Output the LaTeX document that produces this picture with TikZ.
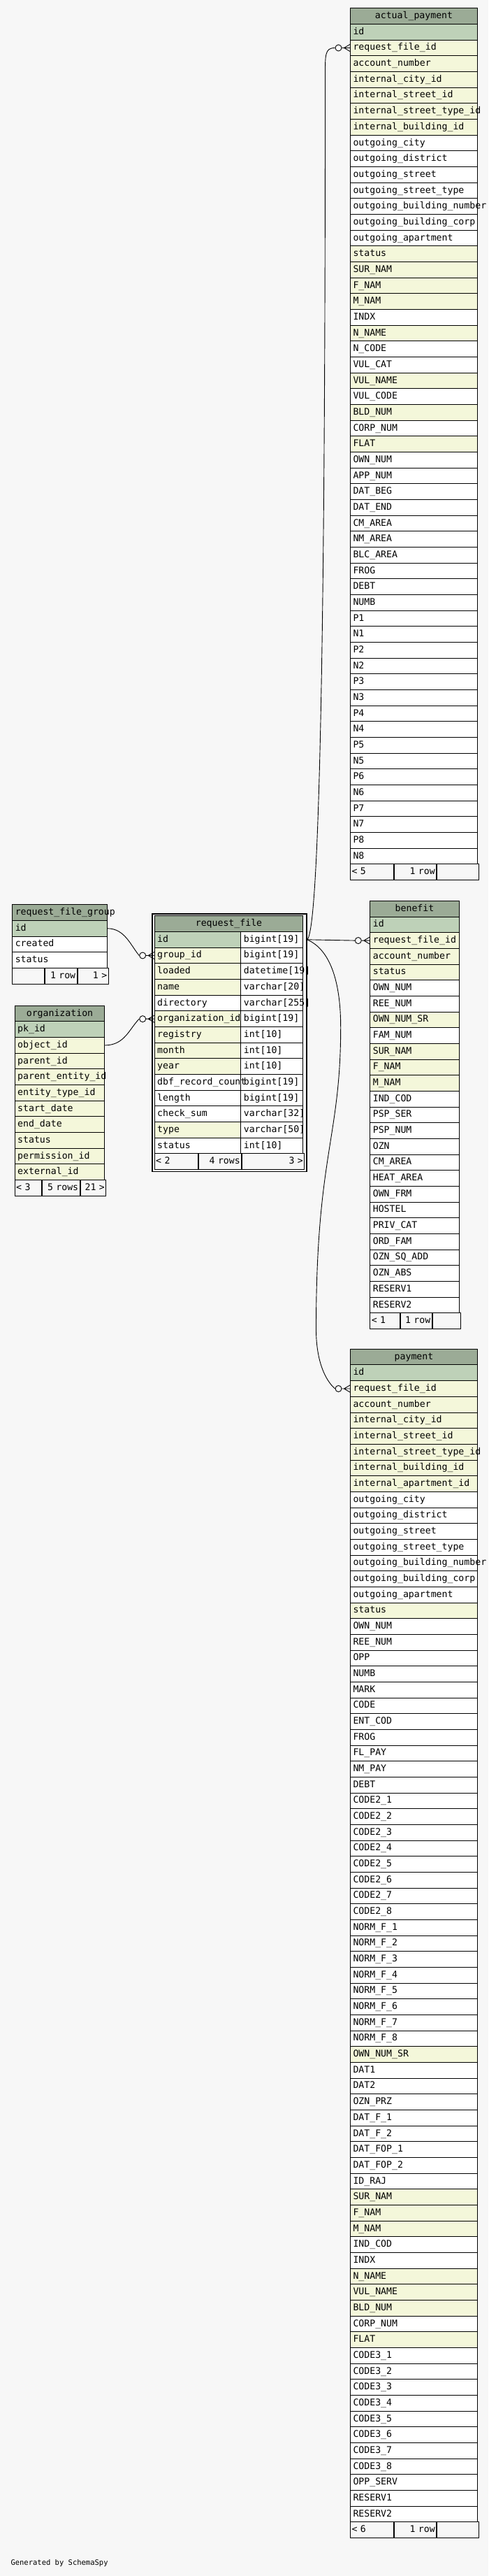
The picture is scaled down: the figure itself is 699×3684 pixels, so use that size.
\documentclass[tikz,border=0pt]{standalone}
\usepackage{fontspec}
\usetikzlibrary{calc,fit}

\newfontfamily\tabfont{DejaVu Sans Mono}
\definecolor{headgreen}{HTML}{9BAB96}
\definecolor{keygreen}{HTML}{BED1B8}
\definecolor{idxyellow}{HTML}{F4F7DA}
\definecolor{pagebg}{HTML}{F7F7F7}

\begin{document}
\begin{tikzpicture}[x=1pt, y=-1pt,
    cell/.style  ={rectangle, draw=black, line width=1pt, anchor=north west, inner xsep=4pt, inner ysep=0pt,
                   minimum height=22.67pt, text height=9.5pt, text depth=2.5pt, align=left,
                   font=\tabfont\fontsize{13.2}{15}\selectfont},
    thead/.style ={cell, fill=headgreen, align=center},
    pkrow/.style ={cell, fill=keygreen},
    hlrow/.style ={cell, fill=idxyellow},
    plrow/.style ={cell, fill=white},
    tfoot/.style ={cell, fill=pagebg, inner xsep=2pt},
    frame/.style ={rectangle, draw=black, line width=1.8pt, inner sep=2.5pt},
    odot/.style  ={circle, draw=black, fill=white, line width=0.9pt, minimum size=9pt, inner sep=0pt},
    rel/.style   ={draw=black, line width=0.9pt}]

  \fill[pagebg] (0,0) rectangle (699,3684);
  \useasboundingbox (0,0) rectangle (699,3684);

  % request_file_group
  \node[thead, text width=127.4pt] (rfg-h) at (17.3,1293.3) {request\_file\_group};
  \foreach \txt/\sty [count=\i] in {id/pkrow, created/plrow, status/plrow}
    \node[\sty, text width=127.4pt] (rfg-\i) at ($(rfg-h.north west)+(0,\i*22.67)$) {\txt};
  \node[tfoot, text width=42pt]                (rfg-f1) at ($(rfg-h.north west)+(0,4*22.67)$) {};
  \node[tfoot, text width=41.4pt, align=right] (rfg-f2) at (rfg-f1.north east) {1 row};
  \node[tfoot, text width=40pt, align=right]   (rfg-f3) at (rfg-f2.north east) {1 >};

  % organization
  \node[thead, text width=120.6pt] (org-h) at (20.7,1437.7) {organization};
  \foreach \txt/\sty [count=\i] in {pk\_id/pkrow, object\_id/hlrow, parent\_id/hlrow, parent\_entity\_id/hlrow,
      entity\_type\_id/hlrow, start\_date/hlrow, end\_date/hlrow, status/hlrow, permission\_id/hlrow, external\_id/hlrow}
    \node[\sty, text width=120.6pt] (org-\i) at ($(org-h.north west)+(0,\i*22.67)$) {\txt};
  \node[tfoot, text width=34.6pt]              (org-f1) at ($(org-h.north west)+(0,11*22.67)$) {< 3};
  \node[tfoot, text width=49.4pt, align=right] (org-f2) at (org-f1.north east) {5 rows};
  \node[tfoot, text width=32.6pt, align=right] (org-f3) at (org-f2.north east) {21 >};

  % request_file
  \node[thead, text width=204.6pt] (rf-h) at (220.7,1309.3) {request\_file};
  \foreach \txt/\ty/\sty [count=\i] in {id/bigint[19]/pkrow, group\_id/bigint[19]/hlrow, loaded/datetime[19]/hlrow,
      name/varchar[20]/hlrow, directory/varchar[255]/plrow, organization\_id/bigint[19]/hlrow, registry/int[10]/hlrow,
      month/int[10]/hlrow, year/int[10]/hlrow, dbf\_record\_count/bigint[19]/plrow, length/bigint[19]/plrow,
      check\_sum/varchar[32]/plrow, type/varchar[50]/hlrow, status/int[10]/plrow}
  {
    \node[plrow, text width=81pt]    (rf-\i-t) at ($(rf-h.north west)+(123.6,\i*22.67)$) {\ty};
    \node[\sty, text width=115.6pt] (rf-\i)   at ($(rf-h.north west)+(0,\i*22.67)$) {\txt};
  }
  \node[tfoot, text width=58.6pt]              (rf-f1) at ($(rf-h.north west)+(0,15*22.67)$) {< 2};
  \node[tfoot, text width=57pt, align=right]   (rf-f2) at (rf-f1.north east) {4 rows};
  \node[tfoot, text width=85pt, align=right]   (rf-f3) at (rf-f2.north east) {3 >};
  \node[frame, fit=(rf-h)(rf-f3)] (rf) {};

  % benefit
  \node[thead, text width=119.4pt] (ben-h) at (529.3,1287.9) {benefit};
  \foreach \txt/\sty [count=\i] in {id/pkrow, request\_file\_id/hlrow, account\_number/hlrow, status/hlrow,
      OWN\_NUM/plrow, REE\_NUM/plrow, OWN\_NUM\_SR/hlrow, FAM\_NUM/plrow, SUR\_NAM/hlrow, F\_NAM/hlrow, M\_NAM/hlrow,
      IND\_COD/plrow, PSP\_SER/plrow, PSP\_NUM/plrow, OZN/plrow, CM\_AREA/plrow, HEAT\_AREA/plrow, OWN\_FRM/plrow,
      HOSTEL/plrow, PRIV\_CAT/plrow, ORD\_FAM/plrow, OZN\_SQ\_ADD/plrow, OZN\_ABS/plrow, RESERV1/plrow, RESERV2/plrow}
    \node[\sty, text width=119.4pt] (ben-\i) at ($(ben-h.north west)+(0,\i*22.67)$) {\txt};
  \node[tfoot, text width=38.4pt]              (ben-f1) at ($(ben-h.north west)+(0,26*22.67)$) {< 1};
  \node[tfoot, text width=41pt, align=right]   (ben-f2) at (ben-f1.north east) {1 row};
  \node[tfoot, text width=36pt, align=right]   (ben-f3) at (ben-f2.north east) {};

  % actual_payment
  \node[thead, text width=174pt] (ap-h) at (501,11.3) {actual\_payment};
  \foreach \txt/\sty [count=\i] in {id/pkrow, request\_file\_id/hlrow, account\_number/hlrow, internal\_city\_id/hlrow,
      internal\_street\_id/hlrow, internal\_street\_type\_id/hlrow, internal\_building\_id/hlrow, outgoing\_city/plrow,
      outgoing\_district/plrow, outgoing\_street/plrow, outgoing\_street\_type/plrow, outgoing\_building\_number/plrow,
      outgoing\_building\_corp/plrow, outgoing\_apartment/plrow, status/hlrow, SUR\_NAM/hlrow, F\_NAM/hlrow, M\_NAM/hlrow,
      INDX/plrow, N\_NAME/hlrow, N\_CODE/plrow, VUL\_CAT/plrow, VUL\_NAME/hlrow, VUL\_CODE/plrow, BLD\_NUM/hlrow,
      CORP\_NUM/plrow, FLAT/hlrow, OWN\_NUM/plrow, APP\_NUM/plrow, DAT\_BEG/plrow, DAT\_END/plrow, CM\_AREA/plrow,
      NM\_AREA/plrow, BLC\_AREA/plrow, FROG/plrow, DEBT/plrow, NUMB/plrow, P1/plrow, N1/plrow, P2/plrow, N2/plrow,
      P3/plrow, N3/plrow, P4/plrow, N4/plrow, P5/plrow, N5/plrow, P6/plrow, N6/plrow, P7/plrow, N7/plrow, P8/plrow, N8/plrow}
    \node[\sty, text width=174pt] (ap-\i) at ($(ap-h.north west)+(0,\i*22.67)$) {\txt};
  \node[tfoot, text width=58.3pt]              (ap-f1) at ($(ap-h.north west)+(0,54*22.67)$) {< 5};
  \node[tfoot, text width=56pt, align=right]   (ap-f2) at (ap-f1.north east) {1 row};
  \node[tfoot, text width=55.7pt, align=right] (ap-f3) at (ap-f2.north east) {};

  % payment
  \node[thead, text width=174pt] (pay-h) at (501,1928.8) {payment};
  \foreach \txt/\sty [count=\i] in {id/pkrow, request\_file\_id/hlrow, account\_number/hlrow, internal\_city\_id/hlrow,
      internal\_street\_id/hlrow, internal\_street\_type\_id/hlrow, internal\_building\_id/hlrow, internal\_apartment\_id/hlrow,
      outgoing\_city/plrow, outgoing\_district/plrow, outgoing\_street/plrow, outgoing\_street\_type/plrow,
      outgoing\_building\_number/plrow, outgoing\_building\_corp/plrow, outgoing\_apartment/plrow, status/hlrow,
      OWN\_NUM/plrow, REE\_NUM/plrow, OPP/plrow, NUMB/plrow, MARK/plrow, CODE/plrow, ENT\_COD/plrow, FROG/plrow,
      FL\_PAY/plrow, NM\_PAY/plrow, DEBT/plrow, CODE2\_1/plrow, CODE2\_2/plrow, CODE2\_3/plrow, CODE2\_4/plrow,
      CODE2\_5/plrow, CODE2\_6/plrow, CODE2\_7/plrow, CODE2\_8/plrow, NORM\_F\_1/plrow, NORM\_F\_2/plrow, NORM\_F\_3/plrow,
      NORM\_F\_4/plrow, NORM\_F\_5/plrow, NORM\_F\_6/plrow, NORM\_F\_7/plrow, NORM\_F\_8/plrow, OWN\_NUM\_SR/hlrow,
      DAT1/plrow, DAT2/plrow, OZN\_PRZ/plrow, DAT\_F\_1/plrow, DAT\_F\_2/plrow, DAT\_FOP\_1/plrow, DAT\_FOP\_2/plrow,
      ID\_RAJ/plrow, SUR\_NAM/hlrow, F\_NAM/hlrow, M\_NAM/hlrow, IND\_COD/plrow, INDX/plrow, N\_NAME/hlrow,
      VUL\_NAME/hlrow, BLD\_NUM/hlrow, CORP\_NUM/plrow, FLAT/hlrow, CODE3\_1/plrow, CODE3\_2/plrow, CODE3\_3/plrow,
      CODE3\_4/plrow, CODE3\_5/plrow, CODE3\_6/plrow, CODE3\_7/plrow, CODE3\_8/plrow, OPP\_SERV/plrow, RESERV1/plrow,
      RESERV2/plrow}
    \node[\sty, text width=174pt] (pay-\i) at ($(pay-h.north west)+(0,\i*22.67)$) {\txt};
  \node[tfoot, text width=58.3pt]              (pay-f1) at ($(pay-h.north west)+(0,74*22.67)$) {< 6};
  \node[tfoot, text width=56pt, align=right]   (pay-f2) at (pay-f1.north east) {1 row};
  \node[tfoot, text width=55.7pt, align=right] (pay-f3) at (pay-f2.north east) {};

  % zero-or-many ends
  \foreach \t in {rf-2, rf-6, ap-2, ben-2, pay-2} {
    \node[odot] (\t-o) at ($(\t.west)+(-16.5,0)$) {};
    \draw[rel] (\t-o.east) -- ($(\t.west)+(-8.5,0)$) -- ($(\t.west)+(0,-5)$)
               ($(\t.west)+(-8.5,0)$) -- (\t.west)
               ($(\t.west)+(-8.5,0)$) -- ($(\t.west)+(0,5)$);
  }

  % relations
  \coordinate (rf-out)    at (rf.east |- rf-1-t);
  \coordinate (ap-bend)   at ($(ap-2-o)+(-19,45)$);
  \coordinate (pay-bend1) at ($(rf-out)+(48,125)$);
  \coordinate (pay-bend2) at ($(pay-2-o)+(-32,-85)$);
  \draw[rel] (rfg-1.east) .. controls +(25,0) and +(-12,-14) .. (rf-2-o.west);
  \draw[rel] (org-2.east) .. controls +(28,0) and +(-14,14) .. (rf-6-o.west);
  \draw[rel] (rf-out) .. controls +(25,-20) and +(0,350) .. (ap-bend)
                      .. controls +(0,-35) and +(-15,0) .. (ap-2-o.west);
  \draw[rel] (rf-out) -- (ben-2-o.west);
  \draw[rel] (rf-out) .. controls +(35,15) and +(0,-60) .. (pay-bend1)
                      .. controls +(0,160) and +(0,-250) .. (pay-bend2)
                      .. controls +(0,45) and +(-14,-12) .. (pay-2-o.west);

  \node[anchor=west, font=\tabfont\fontsize{10.5}{12}\selectfont] (gen) at (12,3666) {Generated by SchemaSpy};
\end{tikzpicture}
\end{document}
